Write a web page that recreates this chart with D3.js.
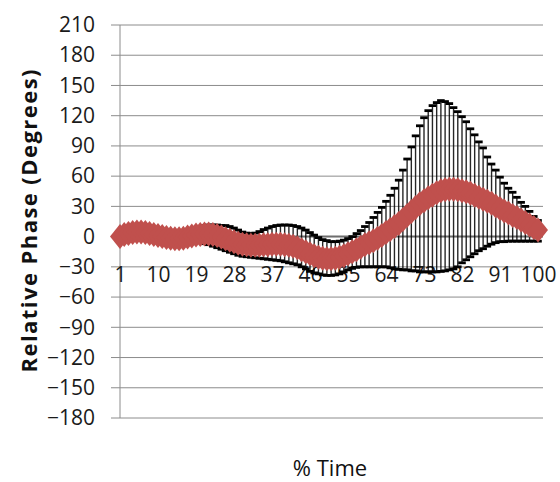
<!DOCTYPE html>
<html>
<head>
<meta charset="utf-8">
<script src="https://cdn.jsdelivr.net/npm/d3@7"></script>
<style>
  html, body { margin: 0; padding: 0; background: #ffffff; }
  svg { display: block; }
  text { font-family: "Open Sans", "DejaVu Sans", sans-serif; }
</style>
</head>
<body>
<svg id="chart" width="560" height="482"></svg>
<script>
// Percent of the movement cycle (categories 1..100)
const timePct = d3.range(1, 101);

// Mean relative phase (degrees) at each percent of time
const meanPhase = [
  0, 2, 3, 4, 4.5, 4.5, 4, 3, 2, 1,
  0, -1, -1.5, -2, -2, -1.5, -0.5, 0.5, 1.5, 2,
  2.5, 2.5, 2, 1, -0.5, -2, -3.5, -5, -6.5, -7.5,
  -8, -8.5, -8.5, -8.5, -8, -8, -7.5, -7.5, -7.5, -8,
  -8.5, -9.5, -11, -13, -15, -17, -19, -20.5, -21.5, -22,
  -22, -21.5, -20.5, -19, -17, -15, -13, -10.5, -8, -6,
  -4, -1.5, 1, 4, 7, 10, 13, 17, 21, 25,
  29, 32.5, 35.5, 38.5, 41, 43.5, 45.5, 46.5, 47, 47,
  46.5, 45.5, 44.5, 43, 41, 39, 37, 35, 33, 30.5,
  28, 25.5, 23.5, 21, 19, 16.5, 14, 11.5, 9, 6.5
];

// Upper end of each error bar (degrees)
const upperPhase = [
  6, 8, 9, 10, 10.5, 10.5, 10, 9, 8, 7,
  6, 5, 4.5, 4, 4, 4.5, 5.5, 7, 8.5, 10,
  11, 11.5, 11.5, 11.5, 11, 11, 10, 8.5, 6.5, 4.5,
  3.5, 3, 3.5, 5, 7, 8.5, 10, 11, 11.5, 11.5,
  11.5, 11, 10, 8.5, 6.5, 4, 1.5, -1, -3, -4,
  -5, -5, -4.5, -3.5, -2, 0, 3, 6, 10, 14,
  19, 24, 29, 35, 41, 48, 56, 66, 77, 89,
  100, 110, 118, 125, 130, 133, 135, 134, 132, 128,
  124, 119, 114, 107, 101, 94, 88, 79, 72, 66,
  59, 53, 48, 44, 39, 34, 30, 25, 20, 16
];

// Lower end of each error bar (degrees)
const lowerPhase = [
  -5, -4, -3, -2, -2, -2, -2.5, -3, -4, -5,
  -6, -7, -7.5, -8, -8, -7.5, -6.5, -6, -5.5, -6,
  -7, -8, -9.5, -11, -12.5, -14, -15.5, -17, -18.5, -19.5,
  -20, -20.5, -21, -21.5, -22, -22.5, -23, -23.5, -24, -25,
  -26, -27, -28, -30, -32, -34.5, -36, -37, -38, -38.5,
  -38.5, -38, -37, -35, -33, -31.5, -30.5, -30, -30, -30,
  -30, -30, -30, -30, -31, -32, -32.5, -33, -33, -34,
  -34, -35, -35, -35, -35, -35, -34.5, -34, -33, -32,
  -30, -26, -23, -20, -17, -14, -12, -9.5, -7.5, -6,
  -5, -5, -4.5, -4.5, -4.5, -4.5, -4.5, -4.5, -4.5, -4.5
];

// Axis ticks
const yTicks = d3.range(-180, 211, 30);
const xTickLabels = [1, 10, 19, 28, 37, 46, 55, 64, 73, 82, 91, 100];

const yTitle = "Relative Phase (Degrees)";
const xTitle = "% Time";

const rows = timePct.map((t, i) => ({
  t, mean: meanPhase[i], hi: upperPhase[i], lo: lowerPhase[i]
}));

const svg = d3.select("#chart");
const plot = { left: 120, right: 543, top: 25, bottom: 418 };

const x = d3.scalePoint().domain(timePct).range([120, 538]);
const y = d3.scaleLinear().domain([-180, 210]).range([plot.bottom, plot.top]);

const gridColor = "#8c8c8c";
const labelSize = 21;

// Horizontal gridlines, extending a little left of the value axis as tick marks
svg.append("g")
  .selectAll("line")
  .data(yTicks)
  .join("line")
  .attr("x1", plot.left - 9)
  .attr("x2", plot.right)
  .attr("y1", d => y(d))
  .attr("y2", d => y(d))
  .attr("stroke", gridColor)
  .attr("stroke-width", 1);

// Value axis: labels only; the line is drawn separately
const yAxis = svg.append("g")
  .attr("transform", `translate(${plot.left - 25},0)`)
  .call(d3.axisLeft(y).tickValues(yTicks).tickSize(0).tickPadding(0));
yAxis.select(".domain").remove();
yAxis.selectAll("text")
  .attr("font-size", labelSize)
  .attr("fill", "#1a1a1a")
  .attr("font-family", "'Open Sans', sans-serif");

svg.append("line")
  .attr("x1", plot.left).attr("x2", plot.left)
  .attr("y1", plot.top).attr("y2", plot.bottom)
  .attr("stroke", gridColor).attr("stroke-width", 1);

// Category axis line at zero
svg.append("line")
  .attr("x1", plot.left).attr("x2", plot.right)
  .attr("y1", y(0)).attr("y2", y(0))
  .attr("stroke", "#6e6e6e").attr("stroke-width", 2);

// Category labels hang below the zero line
const xAxis = svg.append("g")
  .attr("transform", `translate(0,${y(0)})`)
  .call(d3.axisBottom(x).tickValues(xTickLabels).tickSize(0));
xAxis.select(".domain").remove();
xAxis.selectAll("text")
  .attr("y", 38)
  .attr("dy", "0.35em")
  .attr("font-size", labelSize)
  .attr("fill", "#1a1a1a")
  .attr("font-family", "'Open Sans', sans-serif");

// Error bars: stems and caps
const eb = svg.append("g").attr("stroke", "#000");
eb.selectAll("line.stem")
  .data(rows)
  .join("line")
  .attr("class", "stem")
  .attr("x1", d => x(d.t)).attr("x2", d => x(d.t))
  .attr("y1", d => y(d.hi)).attr("y2", d => y(d.lo))
  .attr("stroke-width", 1.4)
  .attr("stroke-opacity", 0.85);
const capW = 3.8;
eb.selectAll("line.capHi")
  .data(rows)
  .join("line")
  .attr("class", "capHi")
  .attr("x1", d => x(d.t) - capW).attr("x2", d => x(d.t) + capW)
  .attr("y1", d => y(d.hi)).attr("y2", d => y(d.hi))
  .attr("stroke-width", 2.8);
eb.selectAll("line.capLo")
  .data(rows)
  .join("line")
  .attr("class", "capLo")
  .attr("x1", d => x(d.t) - capW).attr("x2", d => x(d.t) + capW)
  .attr("y1", d => y(d.lo)).attr("y2", d => y(d.lo))
  .attr("stroke-width", 2.8);

// Diamond markers for the mean
const hw = 10, hh = 12.5;
svg.append("g")
  .selectAll("path")
  .data(rows)
  .join("path")
  .attr("d", d => {
    const cx = x(d.t), cy = y(d.mean);
    return `M${cx - hw},${cy}L${cx},${cy - hh}L${cx + hw},${cy}L${cx},${cy + hh}Z`;
  })
  .attr("fill", "#C0504D");

// Axis titles
svg.append("text")
  .attr("transform", `translate(37,${221}) rotate(-90)`)
  .attr("text-anchor", "middle")
  .attr("font-size", 22)
  .attr("font-weight", "bold")
  .attr("fill", "#111")
  .attr("textLength", 303)
  .attr("lengthAdjust", "spacing")
  .text(yTitle);

svg.append("text")
  .attr("x", 330)
  .attr("y", 476)
  .attr("text-anchor", "middle")
  .attr("font-size", 22)
  .attr("fill", "#111")
  .text(xTitle);
</script>
</body>
</html>
